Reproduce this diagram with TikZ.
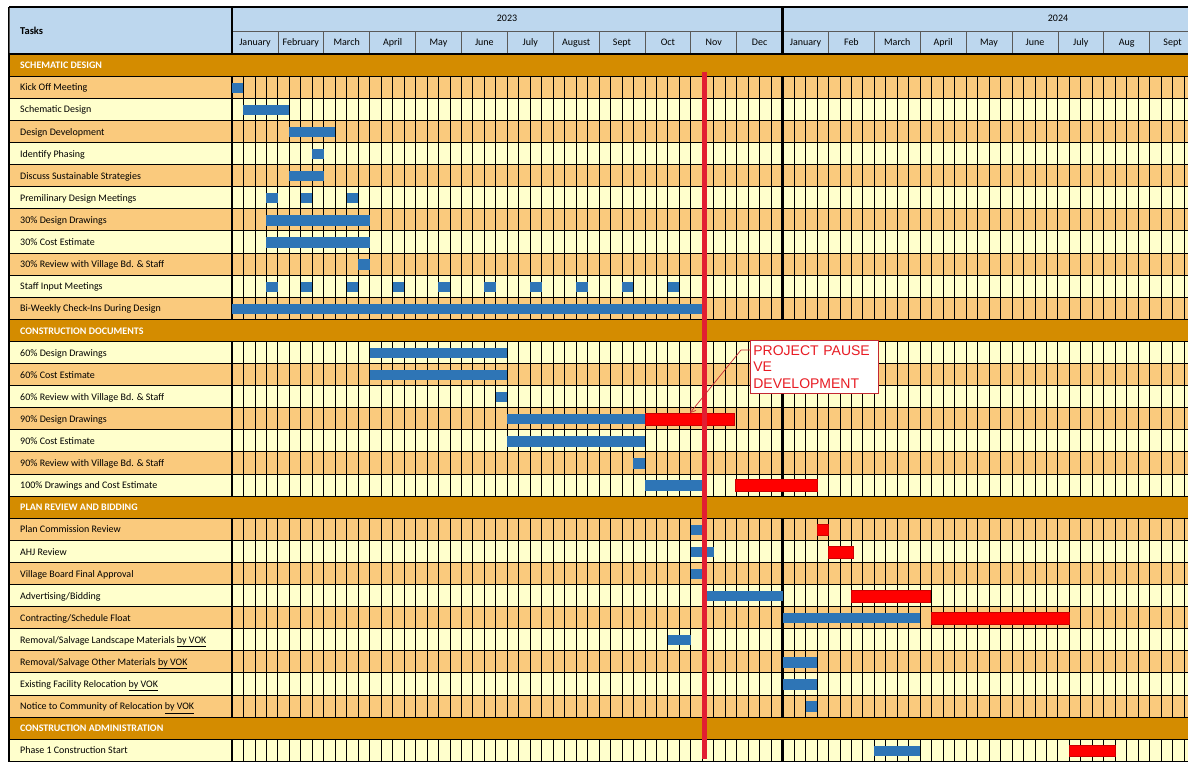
\documentclass[tikz,border=0pt]{standalone}
\usepackage{fontspec}
\setmainfont{Carlito}
\newfontfamily\notefont{Liberation Sans}
\usetikzlibrary{arrows.meta,positioning}
\definecolor{hdrblue}{RGB}{189,215,238}
\definecolor{secgold}{RGB}{212,140,0}
\definecolor{rowora}{RGB}{250,202,125}
\definecolor{rowyel}{RGB}{255,255,204}
\definecolor{barblue}{RGB}{46,117,182}
\definecolor{barred}{RGB}{255,0,0}
\definecolor{pausered}{RGB}{226,30,50}
\definecolor{notered}{RGB}{196,40,50}
\definecolor{notetext}{RGB}{232,28,36}
\tikzset{
  tasklbl/.style={anchor=west,inner sep=0pt,text height=7pt,text depth=2pt,font=\fontsize{10}{11}\selectfont},
  seclbl/.style={tasklbl,text=white,font=\fontsize{10}{11}\selectfont\bfseries},
  monlbl/.style={inner sep=0pt,text height=7pt,text depth=2pt,font=\fontsize{10}{11}\selectfont},
  hdrcell/.style={fill=hdrblue,draw=black!65,line width=0.7pt},
  wkline/.style={black,line width=0.8pt},
  yrline/.style={black,line width=2.6pt},
  bluebar/.style={fill=barblue},
  redbar/.style={fill=barred,draw=red!80!black,line width=0.4pt},
  pausebox/.style={draw=notered,fill=white,line width=0.7pt,anchor=north west,align=left,
    text width=122pt,inner xsep=3pt,minimum height=53pt,text=notetext,
    font=\notefont\fontsize{14}{16.5}\selectfont},
  notearr/.style={-{Straight Barb[length=5pt,width=6pt]},notered,line width=0.7pt}
}
% row r has its top at 54+22.1*r, week w starts at 232+11.47*w
\newcommand{\taskbar}[3]{\path[bluebar] ({232+11.47*#2},{60.5+22.1*#1}) rectangle ({232+11.47*#3},{70.8+22.1*#1});}
\newcommand{\pausebar}[3]{\path[redbar] ({232+11.47*#2},{59.6+22.1*#1}) rectangle ({232+11.47*#3},{71.5+22.1*#1});}

\begin{document}
\begin{tikzpicture}[x=1pt,y=-1pt]
  \useasboundingbox (0,0) rectangle (1188,762);
  \clip (0,0) rectangle (1188,762);

  % rows and task names
  \foreach \r/\c/\t in {1/rowora/Kick Off Meeting, 2/rowyel/Schematic Design,
      3/rowora/Design Development, 4/rowyel/Identify Phasing,
      5/rowora/Discuss Sustainable Strategies, 6/rowyel/Premilinary Design Meetings,
      7/rowora/30\% Design Drawings, 8/rowyel/30\% Cost Estimate,
      9/rowora/30\% Review with Village Bd. \& Staff, 10/rowyel/Staff Input Meetings,
      11/rowora/Bi-Weekly Check-Ins During Design,
      13/rowyel/60\% Design Drawings, 14/rowora/60\% Cost Estimate,
      15/rowyel/60\% Review with Village Bd. \& Staff, 16/rowora/90\% Design Drawings,
      17/rowyel/90\% Cost Estimate, 18/rowora/90\% Review with Village Bd. \& Staff,
      19/rowyel/100\% Drawings and Cost Estimate,
      21/rowora/Plan Commission Review, 22/rowyel/AHJ Review,
      23/rowora/Village Board Final Approval, 24/rowyel/{Advertising/Bidding},
      25/rowora/{Contracting/Schedule Float},
      26/rowyel/{Removal/Salvage Landscape Materials \underline{by VOK}},
      27/rowora/{Removal/Salvage Other Materials \underline{by VOK}},
      28/rowyel/Existing Facility Relocation \underline{by VOK},
      29/rowora/Notice to Community of Relocation \underline{by VOK},
      31/rowyel/Phase 1 Construction Start} {
    \fill[\c] (9,{54+22.1*\r}) rectangle (1188,{76.1+22.1*\r});
    \node[tasklbl] (task\r) at (20,{66.3+22.1*\r}) {\t};
  }

  % week grid
  \foreach \w in {1,...,83}
    \draw[wkline] ({232+11.47*\w},76) -- ({232+11.47*\w},762);
  \draw[black,line width=1.6pt] (232,7) -- (232,762);
  \draw[yrline] (782.6,7) -- (782.6,762);

  % section rows
  \foreach \r/\t in {0/SCHEMATIC DESIGN, 12/CONSTRUCTION DOCUMENTS,
      20/PLAN REVIEW AND BIDDING, 30/CONSTRUCTION ADMINISTRATION} {
    \fill[secgold] (9,{54+22.1*\r}) rectangle (1188,{76.1+22.1*\r});
    \node[seclbl] (sec\r) at (20,{66.3+22.1*\r}) {\t};
  }
  \foreach \r in {0,...,32}
    \draw[black,line width=0.8pt] (9,{54+22.1*\r}) -- (1188,{54+22.1*\r});
  \draw[black,line width=1.4pt] (9,7) -- (9,762);

  % header
  \draw[hdrcell] (9,7) rectangle (232,53);
  \node[anchor=west,inner sep=0pt,font=\fontsize{10.5}{12}\selectfont\bfseries] (tasks) at (20,30.5) {Tasks};
  \draw[hdrcell] (232,7) rectangle (782.6,31);
  \draw[hdrcell] (782.6,7) rectangle (1334,31);
  \node[monlbl] (yr23) at (507,19) {2023};
  \node[monlbl] (yr24) at (1058,19) {2024};
  \foreach \m/\n in {0/January, 1/February, 2/March, 3/April, 4/May, 5/June,
      6/July, 7/August, 8/Sept, 9/Oct, 10/Nov, 11/Dec,
      12/January, 13/Feb, 14/March, 15/April, 16/May, 17/June,
      18/July, 19/Aug, 20/Sept} {
    \draw[hdrcell] ({232+45.88*\m},31) rectangle ({277.88+45.88*\m},53);
    \node[monlbl] (mon\m) at ({254.94+45.88*\m},43) {\n};
  }
  \draw[black,line width=1.4pt] (9,7) -- (1188,7);
  \draw[black,line width=1.6pt] (232,7) -- (232,53);
  \draw[yrline] (782.6,7) -- (782.6,53);
  \draw[black,line width=1pt] (9,53.5) -- (1188,53.5);

  % planned bars
  \foreach \r/\a/\b in {1/0/1, 2/1/5, 3/5/9, 4/7/8, 5/5/8,
      6/3/4, 6/6/7, 6/10/11, 7/3/12, 8/3/12, 9/11/12,
      10/3/4, 10/6/7, 10/10/11, 10/14/15, 10/18/19, 10/22/23,
      10/26/27, 10/30/31, 10/34/35, 10/38/39, 11/0/41,
      13/12/24, 14/12/24, 15/23/24, 16/24/36, 17/24/36, 18/35/36, 19/36/41,
      21/40/41, 22/40/42, 23/40/41, 24/41/48, 25/48/60,
      26/38/40, 27/48/51, 28/48/51, 29/50/51, 31/56/60}
    \taskbar{\r}{\a}{\b};

  % shifted bars
  \foreach \r/\a/\b in {16/36/43.75, 19/43.85/51, 21/51/52, 22/52/54.2,
      24/54/60.9, 25/61/73, 31/73/77}
    \pausebar{\r}{\a}{\b};

  % pause line and note
  \coordinate (pausetop) at (704.5,72);
  \coordinate (pausebot) at (704.5,759);
  \draw[pausered,line width=5.5pt] (pausetop) -- (pausebot);
  \node[pausebox] (pause) at (750,340) {PROJECT PAUSE\\VE\\DEVELOPMENT};
  \coordinate (pausetip) at (690,413);
  \draw[notearr] ([yshift=-10pt]pause.north west) -- ++(-9,0) -- (pausetip);
\end{tikzpicture}
\end{document}
